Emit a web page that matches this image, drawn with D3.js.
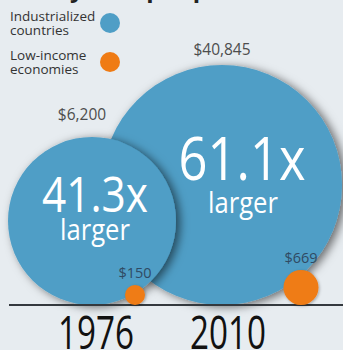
<!DOCTYPE html>
<html>
<head>
<meta charset="utf-8">
<script src="https://cdn.jsdelivr.net/npm/d3@7"></script>
<style>
  body { margin: 0; background: #e7ecf0; }
  svg { display: block; font-family: "Open Sans", sans-serif; }
</style>
</head>
<body>
<div id="chart"></div>
<script>
// --- data ---
const years = ["1976", "2010"];
const industrialized = [6200, 40845];   // GDP per capita, industrialized countries
const lowIncome = [150, 669];           // GDP per capita, low-income economies
const legendLabels = [["Industrialized", "countries"], ["Low-income", "economies"]];
const title = "Yearly GDP per person";

// --- layout ---
const W = 343, H = 350, baseY = 305;
const BLUE = "#4f9ec6", ORANGE = "#ef7b14";
const fmtMoney = d3.format("$,");
const fmtRatio = d3.format(".1f");

const x = d3.scalePoint().domain(years).range([92, 222]);
const rBig = d3.scaleLinear().domain(d3.extent(industrialized)).range([84, 120]);
const rSmall = d3.scaleLinear().domain(d3.extent(lowIncome)).range([10, 17.5]);

// text offsets relative to each big circle
const ratioStyle = [
  { dx: 3, dy: -9, size: 49, len: 106, ldx: 3, ldy: 19 },
  { dx: 20, dy: -5, size: 60, len: 127, ldx: 21, ldy: 28 }
];
const labelGap = [17, 10];

const rows = years.map((y, i) => {
  const r = rBig(industrialized[i]);
  const cx = x(y);
  const rs = rSmall(lowIncome[i]);
  return {
    year: y, i, big: industrialized[i], small: lowIncome[i],
    r, cx, cy: baseY - r,
    rs, sx: cx + r - 41, sy: baseY - rs
  };
});

const svg = d3.select("#chart").append("svg")
  .attr("width", W).attr("height", H);

const defs = svg.append("defs");
defs.append("filter").attr("id", "shadow")
  .attr("x", "-20%").attr("y", "-20%").attr("width", "140%").attr("height", "140%")
  .append("feDropShadow")
  .attr("dx", 4).attr("dy", 2).attr("stdDeviation", 5)
  .attr("flood-color", "#000").attr("flood-opacity", 0.55);
defs.append("filter").attr("id", "shadowSm")
  .attr("x", "-40%").attr("y", "-40%").attr("width", "180%").attr("height", "180%")
  .append("feDropShadow")
  .attr("dx", 1).attr("dy", 1).attr("stdDeviation", 1.5)
  .attr("flood-color", "#000").attr("flood-opacity", 0.3);

// title (cropped at the top)
svg.append("text")
  .attr("x", 8).attr("y", -3)
  .attr("font-size", 24).attr("font-weight", 700).attr("fill", "#222")
  .text(title);

// big circles, later year drawn first so 1976 sits on top
const bigOrder = rows.slice().reverse();
svg.append("g").selectAll("circle").data(bigOrder).join("circle")
  .attr("cx", d => d.cx).attr("cy", d => d.cy).attr("r", d => d.r)
  .attr("fill", BLUE).attr("filter", "url(#shadow)");

// baseline
svg.append("line")
  .attr("x1", 9).attr("x2", W).attr("y1", baseY).attr("y2", baseY)
  .attr("stroke", "#34393e").attr("stroke-width", 2);

// small circles
svg.append("g").selectAll("circle").data(rows).join("circle")
  .attr("cx", d => d.sx).attr("cy", d => d.sy).attr("r", d => d.rs)
  .attr("fill", ORANGE).attr("filter", "url(#shadowSm)");

// value labels
svg.append("g").selectAll("text").data(rows).join("text")
  .attr("x", d => d.cx - (d.i === 0 ? 10 : 0))
  .attr("y", d => d.cy - d.r - labelGap[d.i])
  .attr("text-anchor", "middle").attr("font-size", 15.5).attr("fill", "#4d4d4d")
  .text(d => fmtMoney(d.big));

svg.append("g").selectAll("text").data(rows).join("text")
  .attr("x", d => d.sx)
  .attr("y", d => d.sy - d.rs - 7)
  .attr("text-anchor", "middle").attr("font-size", 14.5).attr("fill", "#2f4a63")
  .text(d => fmtMoney(d.small));

// ratio labels
const ratio = svg.append("g").selectAll("g").data(rows).join("g");
ratio.append("text")
  .attr("x", d => d.cx + ratioStyle[d.i].dx)
  .attr("y", d => d.cy + ratioStyle[d.i].dy)
  .attr("text-anchor", "middle").attr("fill", "#fff")
  .attr("font-size", d => ratioStyle[d.i].size)
  .attr("textLength", d => ratioStyle[d.i].len).attr("lengthAdjust", "spacingAndGlyphs")
  .text(d => fmtRatio(d.big / d.small) + "x");
ratio.append("text")
  .attr("x", d => d.cx + ratioStyle[d.i].ldx)
  .attr("y", d => d.cy + ratioStyle[d.i].ldy)
  .attr("text-anchor", "middle").attr("fill", "#fff")
  .attr("font-size", 29)
  .attr("textLength", 70).attr("lengthAdjust", "spacingAndGlyphs")
  .text("larger");

// year labels
svg.append("g").selectAll("text").data(rows).join("text")
  .attr("x", d => d.cx + 4 + d.i * 2)
  .attr("y", 349)
  .attr("text-anchor", "middle").attr("font-size", 45).attr("fill", "#111")
  .attr("textLength", 76).attr("lengthAdjust", "spacingAndGlyphs")
  .text(d => d.year);

// legend
const legend = svg.append("g").selectAll("g").data(legendLabels).join("g")
  .attr("transform", (d, i) => `translate(0,${i * 39})`);
legend.append("text")
  .attr("x", 10).attr("y", 21)
  .attr("font-size", 13.5).attr("fill", "#333")
  .selectAll("tspan").data(d => d).join("tspan")
  .attr("x", 10).attr("dy", (d, j) => j ? 13.5 : 0)
  .text(d => d);
legend.append("circle")
  .attr("cx", 110).attr("cy", 23).attr("r", 10)
  .attr("fill", (d, i) => i ? ORANGE : BLUE);
</script>
</body>
</html>
